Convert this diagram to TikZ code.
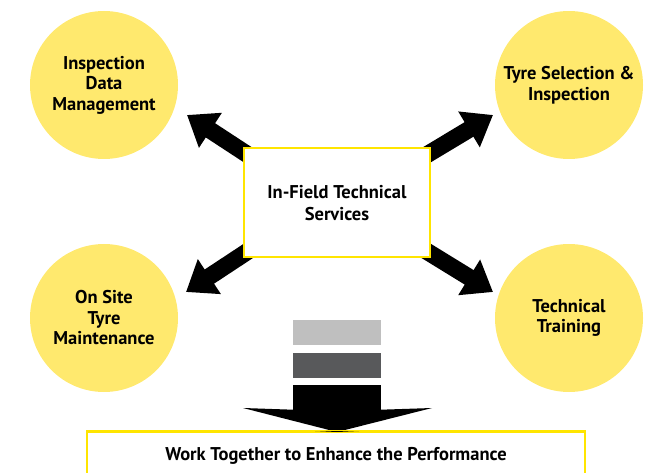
\documentclass[tikz,border=0pt]{standalone}
\usepackage{fontspec}
\setmainfont{PT Sans}
\usetikzlibrary{arrows.meta,backgrounds}

\definecolor{softyellow}{HTML}{FFE96E}
\definecolor{lineyellow}{HTML}{FFE500}
\definecolor{lightbar}{HTML}{BFBFBF}
\definecolor{darkbar}{HTML}{58595B}

\begin{document}
\begin{tikzpicture}[x=1pt,y=-1pt,
        topic/.style={circle,fill=softyellow,minimum size=148pt,inner sep=0pt,
          align=center,font=\bfseries\fontsize{18.5}{20.5}\selectfont},
        centrebox/.style={draw=lineyellow,line width=2pt,fill=white,
          minimum width=186pt,minimum height=109pt,align=center,
          font=\bfseries\fontsize{18.5}{22}\selectfont},
        fatarrow/.style={line width=17pt,-{Triangle[width=40pt,length=28pt]}},
        bar/.style={minimum width=88pt,minimum height=25pt,inner sep=0pt}]

  \useasboundingbox (0,0) rectangle (648,473);

  \node[topic] (data) at (104,85) {Inspection\\Data\\Management};
  \node[topic] (select) at (569,85) {Tyre Selection \&\\Inspection};
  \node[topic] (site) at (104,318) {On Site\\Tyre\\Maintenance};
  \node[topic] (train) at (569,318) {Technical\\Training};

  \node[centrebox] (its) at (337,203) {In-Field Technical\\Services};

  \coordinate (tip data) at (187,115);
  \coordinate (tip select) at (493,115);
  \coordinate (tip site) at (186,292);
  \coordinate (tip train) at (493,292);

  \begin{scope}[on background layer]
    \draw[fatarrow] ([shift={(12,12)}]its.north west) -- (tip data);
    \draw[fatarrow] ([shift={(-12,12)}]its.north east) -- (tip select);
    \draw[fatarrow] ([shift={(12,-12)}]its.south west) -- (tip site);
    \draw[fatarrow] ([shift={(-12,-12)}]its.south east) -- (tip train);
  \end{scope}

  % step bars down to the goal
  \node[bar,fill=lightbar] (bar1) at (337,332.5) {};
  \node[bar,fill=darkbar] (bar2) at (337,365.5) {};
  \node[bar,fill=black] (bar3) at (337,397) {};
  \fill[black] (bar3.south west) -- (243,408) -- (337,432)
    -- (432,408) -- (bar3.south east) -- cycle;

  \node[draw=lineyellow,line width=2pt,fill=white,minimum width=498pt,
    minimum height=50pt,anchor=north,font=\bfseries\fontsize{18.5}{22}\selectfont,
    text depth=7pt] (goal) at (336,431) {Work Together to Enhance the Performance};
  \draw[lineyellow,line width=2pt] (goal.north west) -- (goal.north east);
  \fill[black] (315,431) -- (337,432) -- (359,431) -- cycle;

\end{tikzpicture}
\end{document}
